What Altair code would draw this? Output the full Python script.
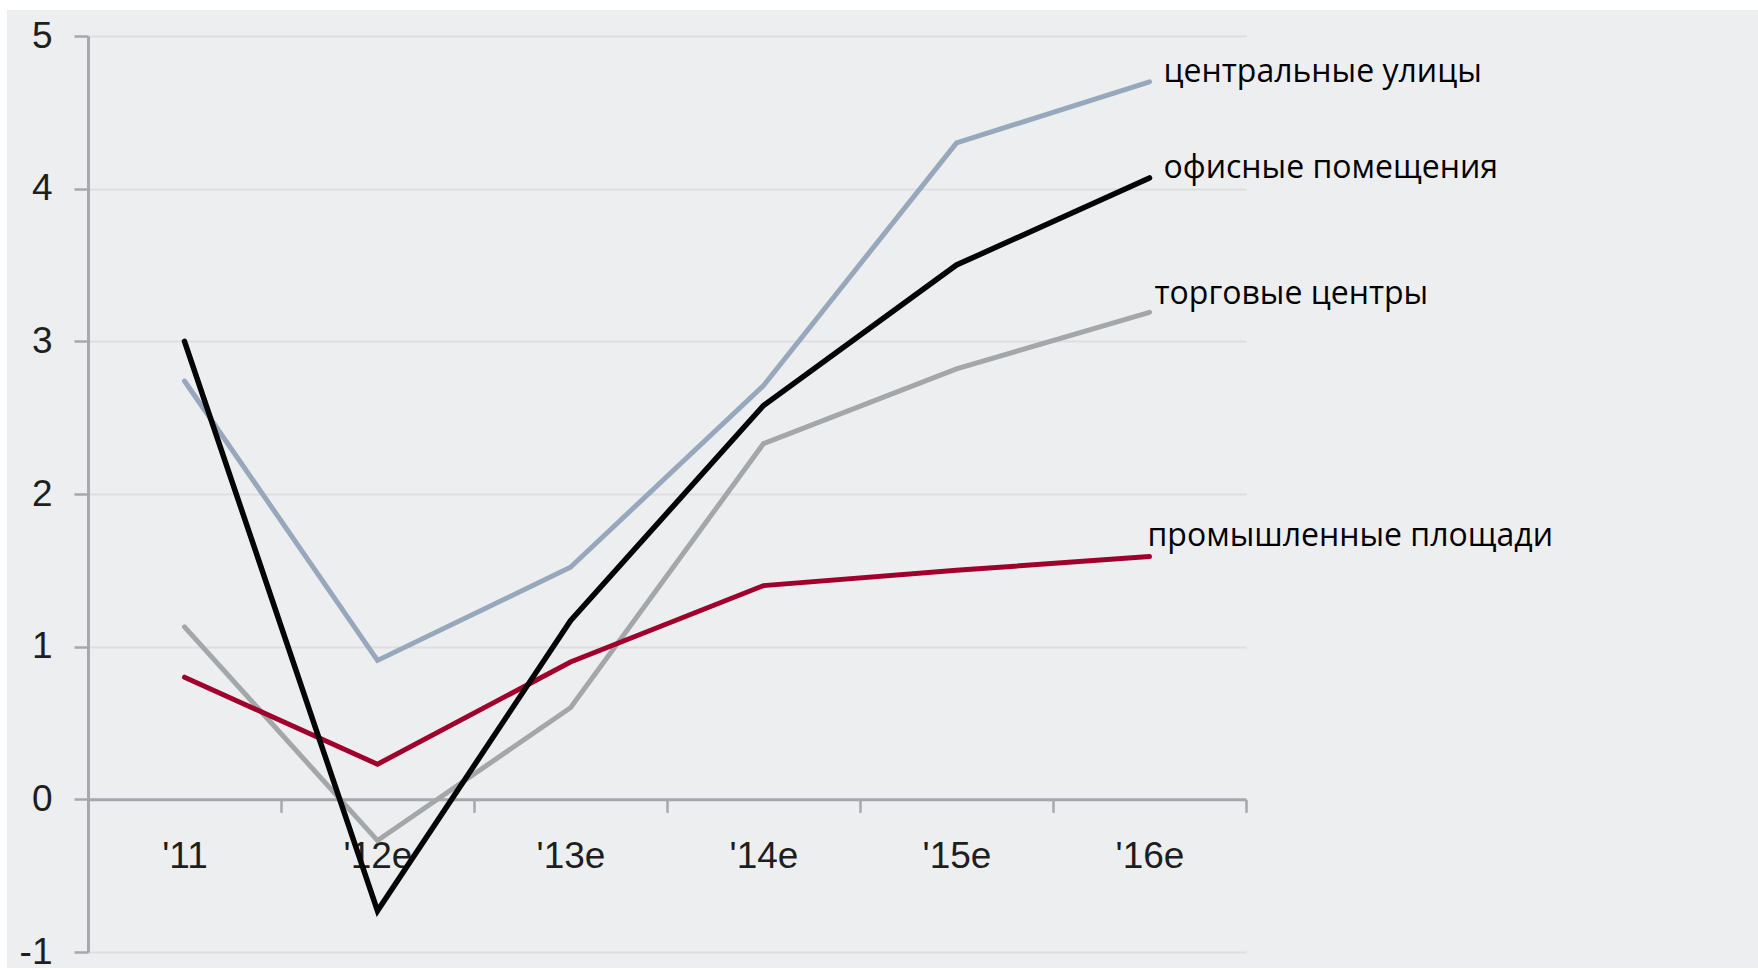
import altair as alt
import pandas as pd

# Categories (years, "e" = estimate)
years = ["'11", "'12e", "'13e", "'14e", "'15e", "'16e"]

# Rental growth by segment, %
central_streets = [2.74, 0.91, 1.52, 2.71, 4.30, 4.70]
offices = [3.00, -0.73, 1.17, 2.58, 3.50, 4.07]
shopping_centres = [1.13, -0.27, 0.60, 2.33, 2.82, 3.19]
industrial = [0.80, 0.23, 0.90, 1.40, 1.50, 1.59]

series_names = [
    "центральные улицы",
    "офисные помещения",
    "торговые центры",
    "промышленные площади",
]
series_values = [central_streets, offices, shopping_centres, industrial]

y_ticks = [-1, 0, 1, 2, 3, 4, 5]

# styling per series: colour, stroke width, label offsets (dx, dy)
styles = {
    "центральные улицы": ("#97a8bc", 5.0, 14, 0),
    "офисные помещения": ("#050505", 5.5, 14, 0),
    "торговые центры": ("#a4a7a9", 5.0, 5, -8),
    "промышленные площади": ("#a0002c", 5.0, -2, -11),
}
draw_order = ["торговые центры", "центральные улицы", "промышленные площади", "офисные помещения"]

rows = []
for name, vals in zip(series_names, series_values):
    for yr, v in zip(years, vals):
        rows.append({"year": yr, "series": name, "value": v})
df = pd.DataFrame(rows)

W, H = 1158, 916
Y_MIN, Y_MAX = -1, 5
zero_offset = -H * (0 - Y_MIN) / (Y_MAX - Y_MIN)  # lift x axis to the zero line

AXIS_GREY = "#a5a9ad"
TEXT = "#1e1e1e"
TICK_FONT_SIZE = 37

x_enc = alt.X(
    "year:N",
    bandPosition=0.5,
    scale=alt.Scale(type="band", domain=years, paddingInner=0, paddingOuter=0),
    axis=alt.Axis(
        title=None,
        labelAngle=0,
        labelFont="Liberation Sans",
        labelFontSize=TICK_FONT_SIZE,
        labelColor=TEXT,
        labelPadding=26,
        tickBand="extent",
        tickSize=13,
        tickWidth=2.5,
        tickColor=AXIS_GREY,
        domainColor=AXIS_GREY,
        domainWidth=3,
        grid=False,
        offset=zero_offset,
    ),
)

y_enc = alt.Y(
    "value:Q",
    scale=alt.Scale(domain=[Y_MIN, Y_MAX], nice=False, zero=False),
    axis=alt.Axis(
        title=None,
        values=y_ticks,
        labelExpr="'' + datum.value",
        labelFont="Liberation Sans",
        labelFontSize=TICK_FONT_SIZE,
        labelColor=TEXT,
        labelPadding=22,
        tickSize=14,
        tickWidth=2.5,
        tickColor=AXIS_GREY,
        domainColor=AXIS_GREY,
        domainWidth=3,
        grid=True,
        gridColor="#dcdee1",
        gridWidth=2,
    ),
)

# white page edge around the grey panel
frame = alt.Chart(alt.Data(values=[{}])).mark_rect(
    fill="transparent", stroke="white", strokeWidth=20
).encode(
    x=alt.value(-91), x2=alt.value(1700), y=alt.value(-36), y2=alt.value(942)
)

layers = [frame]
for name in draw_order:
    color, sw, _, _ = styles[name]
    layers.append(
        alt.Chart(df)
        .transform_filter(alt.datum.series == name)
        .mark_line(color=color, strokeWidth=sw, strokeCap="round", strokeJoin="miter")
        .encode(x=x_enc, y=y_enc)
    )

for name in series_names:
    _, _, dx, dy = styles[name]
    layers.append(
        alt.Chart(df)
        .transform_filter((alt.datum.series == name) & (alt.datum.year == years[-1]))
        .mark_text(
            align="left",
            baseline="alphabetic",
            dx=dx,
            dy=dy,
            font="Open Sans",
            fontSize=32,
            color="#000000",
        )
        .encode(x=x_enc, y=y_enc, text="series:N")
    )

chart = (
    alt.layer(*layers)
    .properties(
        width=W,
        height=H,
        autosize=alt.AutoSizeParams(type="none"),
        padding={"left": 88, "top": 36, "right": 512, "bottom": 18},
        background="#edeef0",
    )
    .configure_view(stroke=None)
)

chart.save("out.html", embed_options={"renderer": "svg", "actions": False})
